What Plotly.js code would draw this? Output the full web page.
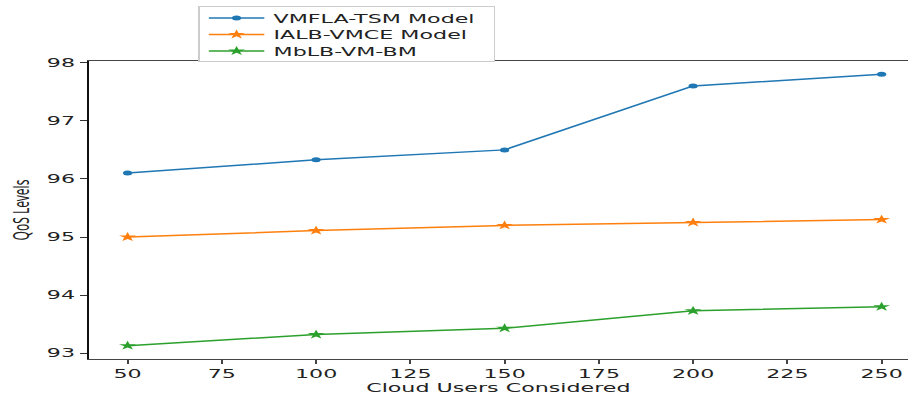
<!DOCTYPE html>
<html>
<head>
<meta charset="utf-8">
<script src="https://cdn.plot.ly/plotly-3.0.1.min.js"></script>
<style>
  html, body { margin: 0; padding: 0; background: #fff; overflow: hidden; }
  #chart { width: 491px; height: 395px; transform: scaleX(1.8493); transform-origin: 0 0; }
</style>
</head>
<body>
<div id="chart"></div>
<script>
const users = [50, 100, 150, 200, 250];
const vmflaTsm = [96.1, 96.33, 96.5, 97.6, 97.8];
const ialbVmce = [95.0, 95.11, 95.2, 95.25, 95.3];
const mblbVmBm = [93.13, 93.32, 93.43, 93.73, 93.8];
const seriesNames = ['VMFLA-TSM Model', 'IALB-VMCE Model', 'MbLB-VM-BM'];
const xTitle = 'Cloud Users Considered';
const yTitle = 'QoS Levels';

const font = 'DejaVu Sans, sans-serif';
const traces = [
  { x: users, y: vmflaTsm, name: seriesNames[0], mode: 'lines+markers',
    line: { color: '#1f77b4', width: 1.5 }, marker: { symbol: 'circle', size: 5, color: '#1f77b4' } },
  { x: users, y: ialbVmce, name: seriesNames[1], mode: 'lines+markers',
    line: { color: '#ff7f0e', width: 1.5 }, marker: { symbol: 'star', size: 7, color: '#ff7f0e' } },
  { x: users, y: mblbVmBm, name: seriesNames[2], mode: 'lines+markers',
    line: { color: '#2ca02c', width: 1.5 }, marker: { symbol: 'star', size: 7, color: '#2ca02c' } }
];

const layout = {
  width: 491, height: 395,
  margin: { l: 48, r: 0, t: 61, b: 36 },
  paper_bgcolor: '#fff', plot_bgcolor: '#fff',
  font: { family: font, size: 12, color: '#222' },
  showlegend: true,
  legend: {
    x: 0.133, xanchor: 'left', y: 1.183, yanchor: 'top',
    bgcolor: '#fff', bordercolor: '#cccccc', borderwidth: 1,
    font: { family: font, size: 12, color: '#222' },
    itemwidth: 30, tracegroupgap: 0
  },
  xaxis: {
    range: [39.7, 257], tick0: 50, dtick: 25, tickmode: 'linear',
    showgrid: false, zeroline: false, automargin: false,
    showline: true, linecolor: '#444', linewidth: 1, mirror: true,
    ticks: 'outside', ticklen: 4, tickcolor: '#444', tickwidth: 1,
    tickfont: { family: font, size: 12, color: '#222' },
    title: { text: xTitle, font: { family: font, size: 12, color: '#222' }, standoff: 4 }
  },
  yaxis: {
    range: [92.9, 98.03], tick0: 93, dtick: 1, tickmode: 'linear',
    showgrid: false, zeroline: false, automargin: false,
    showline: true, linecolor: '#111', linewidth: 1,
    ticks: 'outside', ticklen: 4, tickcolor: '#333', tickwidth: 1,
    tickfont: { family: font, size: 12, color: '#222' },
    title: { text: yTitle, font: { family: 'Noto Sans, sans-serif', size: 12, color: '#222' }, standoff: 6 }
  }
};

Plotly.newPlot('chart', traces, layout, { staticPlot: true, displayModeBar: false }).then(function (gd) {
  // tighten legend row spacing to match the compact reference legend
  try {
    const items = Array.from(gd.querySelectorAll('.legend .traces'));
    if (items.length > 1) {
      const parse = function (el) {
        const m = /translate\(\s*([-\d.]+)[ ,]+([-\d.]+)\s*\)/.exec(el.getAttribute('transform') || '');
        return m ? [parseFloat(m[1]), parseFloat(m[2])] : null;
      };
      const pos = items.map(parse);
      if (pos.every(Boolean)) {
        const step = pos[1][1] - pos[0][1];
        const target = 16.5;
        const shiftTop = 4;
        items.forEach(function (el, i) {
          el.setAttribute('transform', 'translate(' + pos[i][0] + ',' + (pos[0][1] - shiftTop + i * target) + ')');
        });
        const bg = gd.querySelector('.legend .bg');
        if (bg) {
          const h = parseFloat(bg.getAttribute('height'));
          const w = parseFloat(bg.getAttribute('width'));
          const reduce = (items.length - 1) * (step - target) + 2 * shiftTop;
          if (isFinite(h) && reduce > 0) bg.setAttribute('height', h - reduce);
          if (isFinite(w)) bg.setAttribute('width', w + 5);
        }
      }
    }
  } catch (e) {}
});
</script>
</body>
</html>
